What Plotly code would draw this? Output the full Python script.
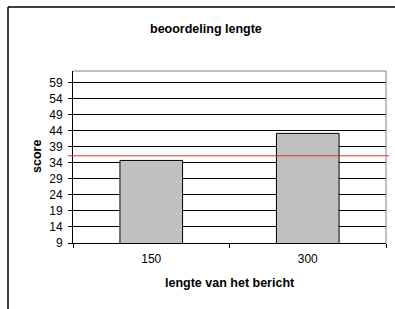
import plotly.graph_objects as go

categories = ["150", "300"]
scores = [34.75, 43.2]
reference_score = 36.2
y_ticks = [9, 14, 19, 24, 29, 34, 39, 44, 49, 54, 59]

W, H = 395, 309
L, R, T, B = 73, 9, 71, 66
PW = W - L - R
PH = H - T - B

def px(x):
    return (x - L) / PW

def py(y):
    return (H - B - y) / PH

font = "Arial, Liberation Sans, sans-serif"

fig = go.Figure()
fig.add_trace(go.Bar(
    x=categories, y=scores,
    marker=dict(color="#C0C0C0", line=dict(color="black", width=1)),
    width=0.4,
))

fig.update_layout(
    width=W, height=H,
    margin=dict(l=L, r=R, t=T, b=B),
    paper_bgcolor="white", plot_bgcolor="white",
    showlegend=False,
    font=dict(family=font, size=12, color="black"),
    xaxis=dict(
        type="category", tickson="boundaries", ticks="outside", ticklen=4,
        tickcolor="black", showline=True, linecolor="black", linewidth=1,
        showgrid=False, ticklabelstandoff=5, tickfont=dict(size=12),
    ),
    yaxis=dict(
        range=[9, 62.65], tickvals=y_ticks, ticks="outside", ticklen=4,
        tickcolor="black", showline=True, linecolor="black", linewidth=1,
        showgrid=True, gridcolor="black", gridwidth=1, zeroline=False,
        ticklabelstandoff=3, tickfont=dict(size=12),
    ),
    shapes=[
        dict(type="line", xref="paper", yref="paper", x0=0, x1=1, y0=1, y1=1,
             line=dict(color="#808080", width=1)),
        dict(type="line", xref="paper", yref="paper", x0=1, x1=1, y0=0, y1=1,
             line=dict(color="#808080", width=1)),
        dict(type="line", xref="paper", yref="y", x0=px(68), x1=px(389),
             y0=reference_score, y1=reference_score,
             line=dict(color="#E03030", width=1)),
        dict(type="line", xref="paper", yref="paper", x0=px(8), x1=px(420),
             y0=py(7), y1=py(7), line=dict(color="black", width=1.5)),
        dict(type="line", xref="paper", yref="paper", x0=px(8), x1=px(8),
             y0=py(7), y1=py(330), line=dict(color="black", width=1.5)),
    ],
    annotations=[
        dict(text="<b>beoordeling lengte</b>", xref="paper", yref="paper",
             x=px(205.5), y=py(29), showarrow=False, font=dict(size=12.5),
             xanchor="center", yanchor="middle"),
        dict(text="<b>lengte van het bericht</b>", xref="paper", yref="paper",
             x=px(230), y=py(283), showarrow=False, font=dict(size=12.5),
             xanchor="center", yanchor="middle"),
        dict(text="<b>score</b>", xref="paper", yref="paper",
             x=px(37), y=py(157), showarrow=False, font=dict(size=12.5),
             textangle=-90, xanchor="center", yanchor="middle"),
    ],
)

fig.write_html(
    "out.html",
    config={"displayModeBar": False},
    post_script="document.body.style.margin='0';document.body.style.overflow='hidden';",
)
